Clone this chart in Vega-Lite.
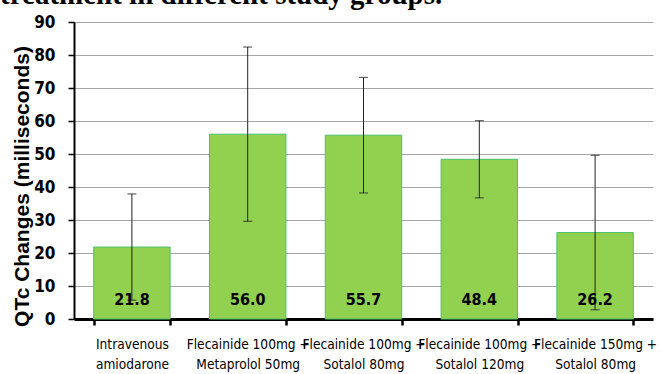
{
  "$schema": "https://vega.github.io/schema/vega-lite/v6.json",
  "width": 579,
  "height": 297,
  "autosize": {"type": "none"},
  "padding": {"left": 74, "top": 22, "right": 12, "bottom": 55},
  "background": "white",
  "title": {
    "text": "treatment in different study groups.",
    "anchor": "start",
    "frame": "group",
    "font": "Liberation Serif",
    "fontWeight": "bold",
    "fontSize": 29,
    "color": "black",
    "dx": -74,
    "offset": 0,
    "baseline": "alphabetic",
    "dy": 20
  },
  "data": {
    "values": [
      {"group": "Intravenous amiodarone", "mean": 21.8, "lo": 5.7, "hi": 37.9},
      {"group": "Flecainide 100mg + Metaprolol 50mg", "mean": 56.0, "lo": 29.6, "hi": 82.4},
      {"group": "Flecainide 100mg + Sotalol 80mg", "mean": 55.7, "lo": 38.2, "hi": 73.2},
      {"group": "Flecainide 100mg + Sotalol 120mg", "mean": 48.4, "lo": 36.7, "hi": 60.1},
      {"group": "Flecainide 150mg + Sotalol 80mg", "mean": 26.2, "lo": 2.8, "hi": 49.6}
    ]
  },
  "encoding": {
    "x": {
      "field": "group",
      "type": "nominal",
      "sort": null,
      "scale": {"paddingInner": 0.34, "paddingOuter": 0.17},
      "axis": {
        "title": null,
        "labelAngle": 0,
        "tickBand": "extent",
        "domainColor": "black",
        "domainWidth": 3,
        "tickColor": "black",
        "tickWidth": 2.5,
        "tickSize": 6,
        "labelFont": "DejaVu Sans Condensed",
        "labelFontSize": 13.6,
        "labelColor": "black",
        "labelPadding": 12,
        "labelLineHeight": 20,
        "labelOverlap": false,
        "labelBound": false,
        "labelExpr": "indexof(datum.label,'+') > 0 ? [slice(datum.label, 0, indexof(datum.label,'+')+1), slice(datum.label, indexof(datum.label,'+')+2)] : split(datum.label, ' ')"
      }
    }
  },
  "layer": [
    {
      "mark": {"type": "bar", "color": "#92d050", "stroke": "#4cbf6e", "strokeWidth": 1},
      "encoding": {
        "y": {
          "field": "mean",
          "type": "quantitative",
          "scale": {"domain": [0, 90], "nice": false},
          "axis": {"title": "QTc Changes (milliseconds)"}
        }
      }
    },
    {
      "mark": {"type": "rule", "color": "#222222", "strokeWidth": 1},
      "encoding": {
        "y": {"field": "lo", "type": "quantitative"},
        "y2": {"field": "hi"}
      }
    },
    {
      "mark": {"type": "tick", "color": "#222222", "thickness": 1.2, "size": 9},
      "encoding": {"y": {"field": "lo", "type": "quantitative"}}
    },
    {
      "mark": {"type": "tick", "color": "#222222", "thickness": 1.2, "size": 9},
      "encoding": {"y": {"field": "hi", "type": "quantitative"}}
    },
    {
      "mark": {"type": "text", "font": "DejaVu Sans Condensed", "fontWeight": "bold", "fontSize": 16, "color": "black", "baseline": "bottom", "dy": -11},
      "encoding": {
        "y": {"datum": 0},
        "text": {"field": "mean", "type": "quantitative", "format": ".1f"}
      }
    }
  ],
  "config": {
    "view": {"stroke": null},
    "axisY": {
      "tickCount": 10,
      "labelOverlap": false,
      "labelFlush": false,
      "labelFont": "DejaVu Sans Condensed",
      "labelFontWeight": "bold",
      "labelFontSize": 17,
      "labelColor": "black",
      "labelPadding": 13,
      "domainColor": "black",
      "domainWidth": 2,
      "tickColor": "black",
      "tickWidth": 1.5,
      "tickSize": 6,
      "grid": true,
      "gridColor": "#a6a6a6",
      "gridWidth": 1.2,
      "titleFont": "Liberation Sans",
      "titleFontSize": 21,
      "titleFontWeight": "bold",
      "titleColor": "black",
      "titlePadding": 1,
      "titleY": 164
    }
  }
}
